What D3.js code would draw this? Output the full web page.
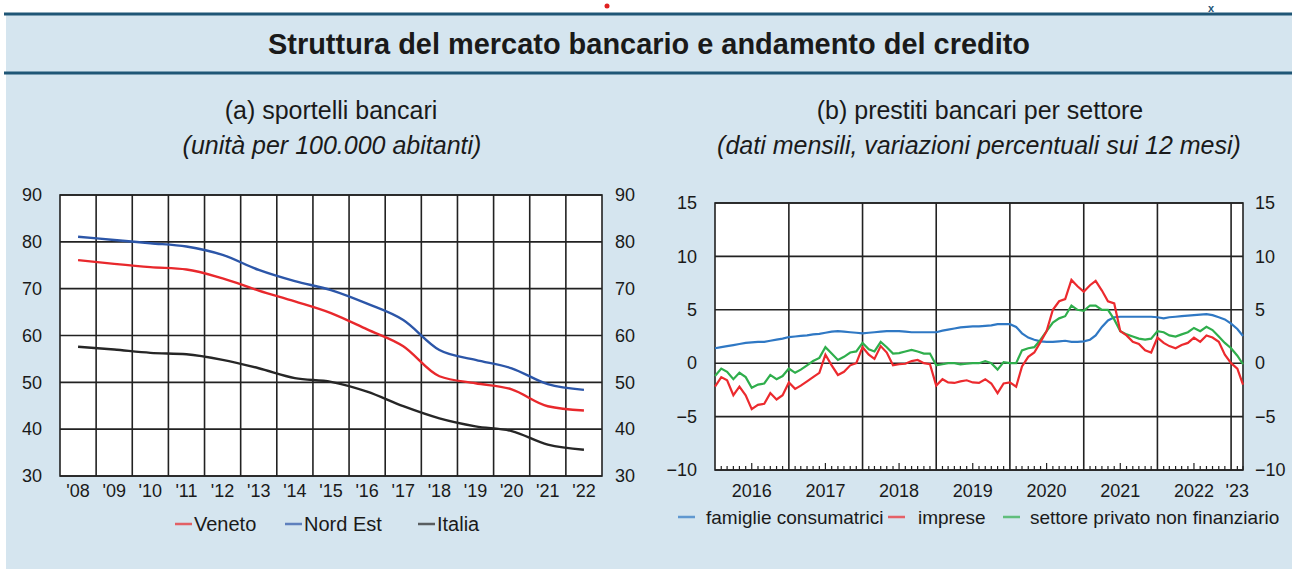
<!DOCTYPE html>
<html>
<head>
<meta charset="utf-8">
<title>Struttura del mercato bancario e andamento del credito</title>
<script src="https://d3js.org/d3.v7.min.js"></script>
<style>
  body { margin: 0; background: #ffffff; }
  svg text { font-family: "Liberation Sans", Arial, sans-serif; fill: #1a1a1a; }
</style>
</head>
<body>
<div id="wrapper"></div>
<script>
// ---- data: (a) sportelli bancari, per 100.000 abitanti
const years = [2008, 2009, 2010, 2011, 2012, 2013, 2014, 2015, 2016, 2017, 2018, 2019, 2020, 2021, 2022];
const veneto  = [76.1, 75.3, 74.6, 74.1, 72.2, 69.6, 67.3, 64.8, 61.3, 57.7, 51.3, 49.8, 48.5, 44.9, 44.0];
const nordEst = [81.1, 80.4, 79.7, 79.0, 77.2, 74.0, 71.6, 69.7, 66.8, 63.3, 56.9, 54.8, 53.0, 49.6, 48.4];
const italia  = [57.6, 57.0, 56.3, 56.0, 54.8, 53.0, 50.9, 50.1, 48.0, 44.9, 42.3, 40.6, 39.6, 36.7, 35.6];
const leftTicks = [30, 40, 50, 60, 70, 80, 90];

// ---- data: (b) prestiti bancari per settore, monthly Jan 2016 - Mar 2023
const famiglie = [
  1.4, 1.5, 1.6, 1.7, 1.8, 1.9, 1.95, 2.0, 2.0, 2.1, 2.2, 2.3,
  2.45, 2.5, 2.55, 2.6, 2.7, 2.75, 2.85, 2.95, 3.0, 2.95, 2.9, 2.85,
  2.8, 2.85, 2.9, 2.95, 3.0, 3.0, 3.0, 2.95, 2.9, 2.9, 2.9, 2.9,
  2.9, 3.05, 3.15, 3.25, 3.35, 3.4, 3.45, 3.45, 3.5, 3.55, 3.65, 3.65,
  3.65, 3.4, 2.8, 2.4, 2.2, 2.05, 2.0, 2.0, 2.05, 2.1, 2.0, 2.0,
  2.05, 2.2, 2.6, 3.4, 4.0, 4.3, 4.35, 4.35, 4.35, 4.35, 4.35, 4.35,
  4.3, 4.2, 4.3, 4.35, 4.4, 4.45, 4.5, 4.55, 4.6, 4.5, 4.3, 4.1,
  3.7, 3.2, 2.55
];
const imprese = [
  -2.2, -1.3, -1.6, -3.0, -2.2, -3.0, -4.3, -3.9, -3.8, -2.8, -3.4, -3.0,
  -1.8, -2.4, -2.1, -1.7, -1.3, -0.9, 0.8, -0.2, -1.1, -0.8, -0.2, 0.0,
  1.5, 0.8, 0.4, 1.6, 1.0, -0.2, -0.1, -0.05, 0.2, 0.3, 0.0, -0.1,
  -2.1, -1.5, -1.8, -1.85, -1.7, -1.6, -1.8, -1.85, -1.5, -1.9, -2.8, -1.9,
  -1.8, -2.2, -0.3, 0.6, 1.0, 2.0, 3.0, 5.0, 5.8, 6.0, 7.8, 7.2,
  6.7, 7.3, 7.7, 6.8, 5.8, 5.6, 3.0, 2.6, 2.0, 1.8, 1.2, 1.0,
  2.4, 1.9, 1.6, 1.4, 1.7, 1.9, 2.4, 2.0, 2.6, 2.4, 2.0, 0.8,
  0.0, -0.5, -2.0
];
const settorePrivato = [
  -1.2, -0.5, -0.8, -1.5, -0.9, -1.3, -2.3, -2.0, -1.9, -1.1, -1.5, -1.2,
  -0.5, -0.9, -0.6, -0.2, 0.2, 0.5, 1.5, 0.9, 0.3, 0.6, 1.0, 1.1,
  1.9, 1.3, 1.1, 2.0, 1.5, 0.9, 0.95, 1.1, 1.25, 1.1, 0.9, 0.9,
  -0.2, -0.1, 0.0, 0.0, -0.1, -0.05, 0.0, 0.0, 0.2, 0.0, -0.6, 0.1,
  0.0, 0.0, 1.2, 1.4, 1.5, 2.2, 3.0, 3.8, 4.2, 4.4, 5.4, 5.0,
  4.9, 5.4, 5.4, 5.0, 5.0, 4.1, 3.0, 2.7, 2.5, 2.3, 2.2, 2.3,
  3.0, 2.9, 2.6, 2.5, 2.7, 2.9, 3.3, 3.0, 3.4, 3.1, 2.5, 1.9,
  1.4, 0.7, -0.1
];
const rightTicks = [-10, -5, 0, 5, 10, 15];
const yearLabels = ["2016", "2017", "2018", "2019", "2020", "2021", "2022", "'23"];

const width = 1292, height = 569;
const bg = "#d5e5ef";

const svg = d3.select("#wrapper").append("svg")
  .attr("width", width).attr("height", height);

// page background and header band
svg.append("rect").attr("x", 6).attr("y", 14).attr("width", width - 6).attr("height", height - 14).attr("fill", bg);
svg.append("line").attr("x1", 4).attr("x2", width).attr("y1", 14).attr("y2", 14).attr("stroke", "#1f5676").attr("stroke-width", 3);
svg.append("line").attr("x1", 4).attr("x2", width).attr("y1", 73).attr("y2", 73).attr("stroke", "#1f5676").attr("stroke-width", 3);
svg.append("circle").attr("cx", 607).attr("cy", 6).attr("r", 2.5).attr("fill", "#e02020");
svg.append("text").attr("x", 1211).attr("y", 12).attr("text-anchor", "middle").style("font-size", "11px").style("font-weight", "bold").style("fill", "#1f5676").text("x");

svg.append("text").attr("x", 649).attr("y", 54).attr("text-anchor", "middle")
  .style("font-size", "29px").style("font-weight", "bold").attr("textLength", 762).attr("lengthAdjust", "spacingAndGlyphs")
  .text("Struttura del mercato bancario e andamento del credito");

// ---------- panel (a)
svg.append("text").attr("x", 331).attr("y", 119).attr("text-anchor", "middle").style("font-size", "25px").text("(a) sportelli bancari");
svg.append("text").attr("x", 332).attr("y", 154).attr("text-anchor", "middle").style("font-size", "25px").style("font-style", "italic").text("(unità per 100.000 abitanti)");

const aL = 60, aR = 602, aT = 195, aB = 476;
const xA = d3.scaleBand().domain(years).range([aL, aR]).padding(0);
const yA = d3.scaleLinear().domain([30, 90]).range([aB, aT]);

const gA = svg.append("g");
gA.append("rect").attr("x", aL).attr("y", aT).attr("width", aR - aL).attr("height", aB - aT).attr("fill", "#fff");
gA.selectAll(".hg").data(leftTicks).join("line")
  .attr("x1", aL).attr("x2", aR).attr("y1", d => yA(d)).attr("y2", d => yA(d))
  .attr("stroke", "#222").attr("stroke-width", 1.6);
gA.selectAll(".vg").data(years.slice(1)).join("line")
  .attr("x1", d => xA(d)).attr("x2", d => xA(d)).attr("y1", aT).attr("y2", aB)
  .attr("stroke", "#222").attr("stroke-width", 1.6);
gA.append("rect").attr("x", aL).attr("y", aT).attr("width", aR - aL).attr("height", aB - aT)
  .attr("fill", "none").attr("stroke", "#222").attr("stroke-width", 1.6);

const axisLeftA = d3.axisLeft(yA).tickValues(leftTicks).tickSize(0).tickPadding(18);
const axisRightA = d3.axisRight(yA).tickValues(leftTicks).tickSize(0).tickPadding(13);
const axisBottomA = d3.axisBottom(xA).tickSize(0).tickPadding(8).tickFormat(d => "'" + String(d).slice(2));
[svg.append("g").attr("transform", `translate(${aL},0)`).call(axisLeftA),
 svg.append("g").attr("transform", `translate(${aR},0)`).call(axisRightA),
 svg.append("g").attr("transform", `translate(0,${aB})`).call(axisBottomA)]
  .forEach(g => { g.select(".domain").remove(); g.selectAll("text").style("font-size", "18px").attr("fill", "#1a1a1a"); });

const lineA = vals => d3.line()
  .x((d, i) => xA(years[i]) + xA.bandwidth() / 2)
  .y(d => yA(d))
  .curve(d3.curveMonotoneX)(vals);

const seriesA = [
  { name: "Veneto", vals: veneto, color: "#e8282c", lx: 175 },
  { name: "Nord Est", vals: nordEst, color: "#2c56a8", lx: 285 },
  { name: "Italia", vals: italia, color: "#262626", lx: 418 }
];
seriesA.forEach(s => {
  gA.append("path").attr("d", lineA(s.vals)).attr("fill", "none").attr("stroke", s.color).attr("stroke-width", 2.4);
});

seriesA.forEach(s => {
  svg.append("line").attr("x1", s.lx).attr("x2", s.lx + 17).attr("y1", 524).attr("y2", 524)
    .attr("stroke", s.color).attr("stroke-width", 2.5).attr("opacity", 0.7);
  svg.append("text").attr("x", s.lx + 19).attr("y", 531).style("font-size", "20px").text(s.name);
});

// ---------- panel (b)
svg.append("text").attr("x", 980).attr("y", 119).attr("text-anchor", "middle").style("font-size", "25px").text("(b) prestiti bancari per settore");
svg.append("text").attr("x", 979).attr("y", 154).attr("text-anchor", "middle").style("font-size", "25px").style("font-style", "italic").text("(dati mensili, variazioni percentuali sui 12 mesi)");

const bL = 715, bR = 1243, bT = 203, bB = 470;
const months = d3.timeMonth.range(new Date(2016, 0, 1), new Date(2023, 3, 1));
const xB = d3.scaleTime().domain([months[0], months[months.length - 1]]).range([bL, bR]);
const yB = d3.scaleLinear().domain([-10, 15]).range([bB, bT]);

const gB = svg.append("g");
gB.append("rect").attr("x", bL).attr("y", bT).attr("width", bR - bL).attr("height", bB - bT).attr("fill", "#fff");
gB.selectAll(".hg").data(rightTicks).join("line")
  .attr("x1", bL).attr("x2", bR).attr("y1", d => yB(d)).attr("y2", d => yB(d))
  .attr("stroke", "#222").attr("stroke-width", 1.6);
const yearStarts = d3.timeYear.range(new Date(2017, 0, 1), new Date(2023, 1, 1));
gB.selectAll(".vg").data(yearStarts).join("line")
  .attr("x1", d => xB(d)).attr("x2", d => xB(d)).attr("y1", bT).attr("y2", bB)
  .attr("stroke", "#222").attr("stroke-width", 1.6);
// monthly minor ticks along the bottom
gB.selectAll(".mt").data(months.filter(m => m.getMonth() !== 0)).join("line")
  .attr("x1", d => xB(d)).attr("x2", d => xB(d))
  .attr("y1", bB).attr("y2", d => bB - (d.getMonth() === 6 ? 7 : 4))
  .attr("stroke", "#222").attr("stroke-width", 1.2);
gB.append("rect").attr("x", bL).attr("y", bT).attr("width", bR - bL).attr("height", bB - bT)
  .attr("fill", "none").attr("stroke", "#222").attr("stroke-width", 1.6);

const axisLeftB = d3.axisLeft(yB).tickValues(rightTicks).tickSize(0).tickPadding(18);
const axisRightB = d3.axisRight(yB).tickValues(rightTicks).tickSize(0).tickPadding(12);
[svg.append("g").attr("transform", `translate(${bL},0)`).call(axisLeftB),
 svg.append("g").attr("transform", `translate(${bR},0)`).call(axisRightB)]
  .forEach(g => { g.select(".domain").remove(); g.selectAll("text").style("font-size", "18px").attr("fill", "#1a1a1a"); });

// year labels centred in each year's span (last one in the partial 2023 span)
const labelDates = [2016, 2017, 2018, 2019, 2020, 2021, 2022].map(y => new Date(y, 6, 1)).concat([new Date(2023, 1, 1)]);
svg.selectAll(".yl").data(yearLabels).join("text")
  .attr("x", (d, i) => xB(labelDates[i])).attr("y", 497)
  .attr("text-anchor", "middle").style("font-size", "18px").text(d => d);

const lineB = d3.line().x((d, i) => xB(months[i])).y(d => yB(d));
const seriesB = [
  { name: "famiglie consumatrici", vals: famiglie, color: "#2f78c4", lx: 678, tx: 706 },
  { name: "imprese", vals: imprese, color: "#ec2a2e", lx: 888, tx: 918 },
  { name: "settore privato non finanziario", vals: settorePrivato, color: "#2fae4c", lx: 1003, tx: 1030 }
];
[seriesB[0], seriesB[2], seriesB[1]].forEach(s => {
  gB.append("path").attr("d", lineB(s.vals)).attr("fill", "none").attr("stroke", s.color).attr("stroke-width", 2.2);
});
seriesB.forEach(s => {
  svg.append("line").attr("x1", s.lx).attr("x2", s.lx + 17).attr("y1", 517).attr("y2", 517)
    .attr("stroke", s.color).attr("stroke-width", 2.5).attr("opacity", 0.7);
  svg.append("text").attr("x", s.tx).attr("y", 524).style("font-size", "19px").text(s.name);
});
</script>
</body>
</html>
